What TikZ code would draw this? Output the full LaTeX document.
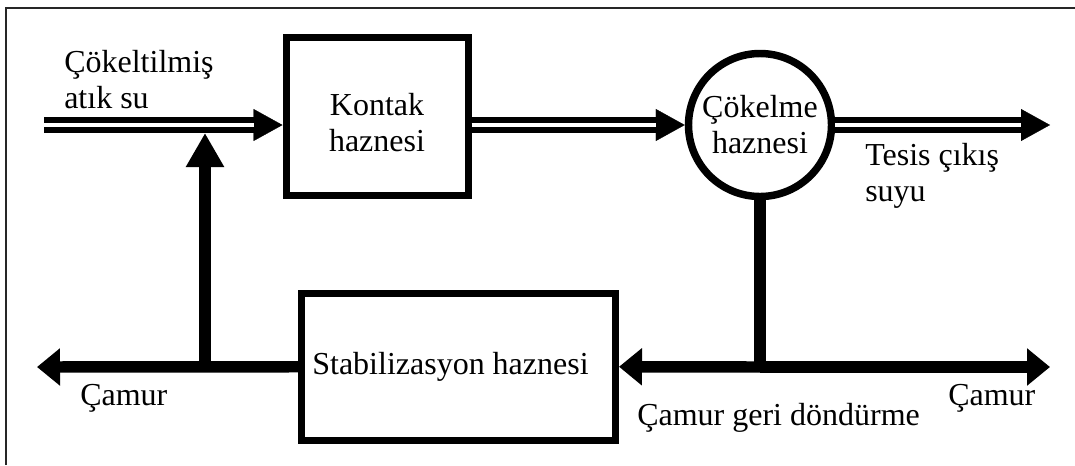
\documentclass[tikz,border=0pt]{standalone}
\usepackage{fontspec}
\setmainfont{Liberation Serif}
\usetikzlibrary{arrows.meta}

% flow line drawn as two parallel rails with a solid head
\newcommand\pipeflow[2]{%
  \draw[pipehead] (#1) -- (#2);
  \draw[pipeline, shorten >=21.75pt] (#1) -- (#2);}

\begin{document}
\begin{tikzpicture}[x=0.75pt,y=-0.75pt,
  every node/.style={font=\fontsize{24}{27}\selectfont, inner sep=0pt},
  tank/.style={draw, line width=5.25pt, rectangle, align=center},
  basin/.style={draw, line width=5.6pt, circle, minimum size=107.25pt, align=center},
  label/.style={anchor=base west, align=left},
  pipeline/.style={line width=4.5pt, double=white, double distance=3pt},
  pipehead/.style={line width=0.2pt, -{Triangle[length=21.75pt,width=24pt]}},
  sludge/.style={line width=8.6pt},
  sludgeh/.style={sludge, -{Triangle[length=17.25pt,width=27pt]}},
  sludgev/.style={sludge, -{Triangle[length=25.5pt,width=27pt]}},
  frame/.style={line width=1.5pt, draw=black!85}]

\useasboundingbox (0,0) rectangle (1075,465);

% outer frame
\coordinate (fTL) at (6,8);
\coordinate (fTR) at (1075,8);
\coordinate (fBL) at (6,465);
\draw[frame] (fBL) -- (fTL) -- (fTR);

% tanks
\node[tank, minimum width=136.5pt, minimum height=118.5pt] (kontak) at (377,116) {};
\node[anchor=base, align=center] (kontaktxt) at (377,151) {Kontak\\haznesi};
\node[basin] (cokelme) at (760,125) {Çökelme\\haznesi};
\node[tank, minimum width=235.5pt, minimum height=109.9pt] (stab) at (458.5,366.75) {\hspace*{-12pt}Stabilizasyon haznesi};

% free ends and junctions
\coordinate (inflow) at (44,125);
\coordinate (outflow) at (1050,125);
\coordinate (mixin) at (205,133);
\coordinate (j1) at (205,367);
\coordinate (j2) at (760,367);
\coordinate (camurL) at (37,367);
\coordinate (camurR) at (1050,367);

% water line
\pipeflow{inflow}{inflow -| kontak.west}
\pipeflow{inflow -| kontak.east}{cokelme.west}
\pipeflow{cokelme.east}{outflow}

% sludge lines
\draw[sludge] (cokelme.south) -- (j2);
\draw[sludgeh] (j2) -- (stab.east);
\draw[sludgeh] (j2) -- (camurR);
\draw[sludgeh] (stab.west) -- (camurL);
\draw[sludgev] (j1) -- (mixin);

% labels
\node[label] (tin) at (64,108) {Çökeltilmiş\\atık su};
\node[label] (tout) at (865,201) {Tesis çıkış\\suyu};
\node[label] (tcl) at (80,405) {Çamur};
\node[label] (tcr) at (948,405) {Çamur};
\node[label] (tret) at (637,425) {Çamur geri döndürme};
\end{tikzpicture}
\end{document}
